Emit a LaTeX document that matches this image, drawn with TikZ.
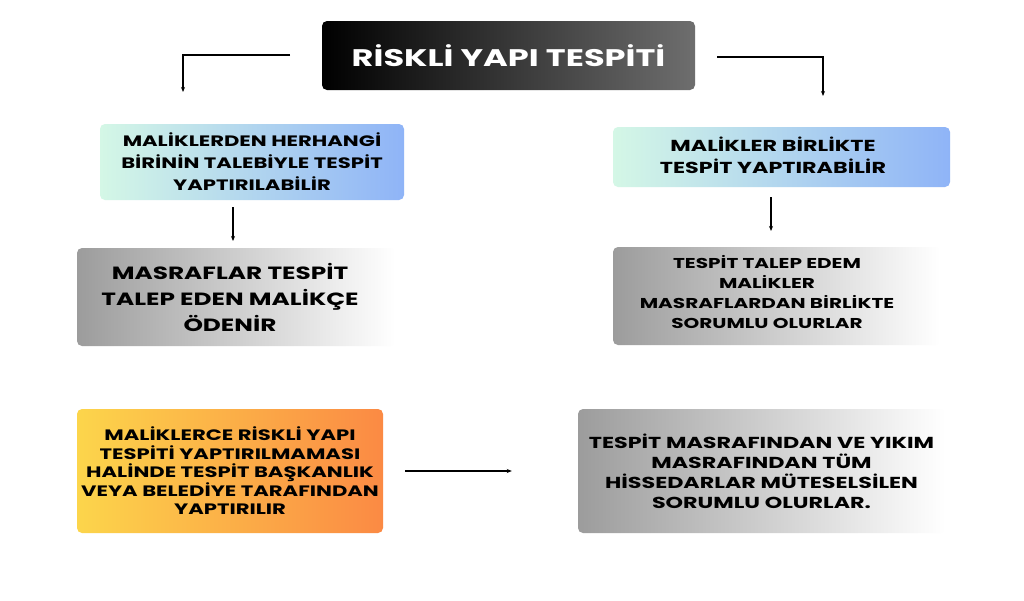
\documentclass[tikz,border=0pt]{standalone}
\usepackage{fontspec}
\setmainfont{Poppins}
\newfontfamily\widefont{Poppins}[FakeStretch=1.4]
\usetikzlibrary{arrows.meta}
\definecolor{mint}{HTML}{D4F7E6}
\definecolor{skyb}{HTML}{8FB4F7}
\definecolor{ttlgray}{HTML}{6E6E6E}
\definecolor{gryL}{HTML}{9C9C9C}
\definecolor{ylw}{HTML}{FCD54B}
\definecolor{org}{HTML}{FB8A44}
\newcommand{\fs}[2]{\widefont\bfseries\fontsize{#1}{#2}\selectfont}
\tikzset{
  base/.style={rounded corners=5pt, align=center, inner sep=0pt,
    execute at begin node={\lineskiplimit=-100pt\relax}},
  titlebox/.style={base, left color=black, right color=ttlgray, text=white},
  bluebox/.style={base, left color=mint, right color=skyb},
  graybox/.style={base, left color=gryL, right color=white},
  orangebox/.style={base, left color=ylw, right color=org},
  plaintext/.style={align=center, inner sep=0pt, execute at begin node={\lineskiplimit=-100pt\relax}},
  conn/.style={line width=1.2pt, -{Stealth[length=5pt,width=4pt]}},
}
\begin{document}
\begin{tikzpicture}[x=1pt,y=-1pt]
\useasboundingbox (0,0) rectangle (1024,600);
\fill[white] (0,0) rectangle (1024,600);
\node[titlebox, minimum width=373pt, minimum height=69pt, font=\fs{24}{26}] (title) at (508.5,55.5) {RİSKLİ YAPI TESPİTİ};
\node[bluebox, minimum width=304pt, minimum height=76pt, font=\fs{15.1}{22}] (l1) at (252,162) {MALİKLERDEN HERHANGİ\\BİRİNİN TALEBİYLE TESPİT\\YAPTIRILABİLİR};
\node[bluebox, minimum width=337pt, minimum height=60pt] (r1) at (781.5,157) {};
\node[plaintext, font=\fs{15.9}{22}] (r1t) at (773,155) {MALİKLER BİRLİKTE\\TESPİT YAPTIRABİLİR};
\node[graybox, minimum width=318pt, minimum height=98pt, font=\fs{17.7}{26}] (l2) at (236,297) {\hspace*{-12pt}MASRAFLAR TESPİT\\\hspace*{-12pt}TALEP EDEN MALİKÇE\\\hspace*{-12pt}ÖDENİR};
\node[graybox, minimum width=327pt, minimum height=98pt] (r2) at (776.5,296) {};
\node[plaintext, font=\fs{14.3}{20}] (r2t) at (767,292) {TESPİT TALEP EDEM\\MALİKLER\\MASRAFLARDAN BİRLİKTE\\SORUMLU OLURLAR};
\node[orangebox, minimum width=306pt, minimum height=124pt, font=\fs{15.1}{18.5}] (o) at (230,471) {MALİKLERCE RİSKLİ YAPI\\TESPİTİ YAPTIRILMAMASI\\HALİNDE TESPİT BAŞKANLIK\\VEYA BELEDİYE TARAFINDAN\\YAPTIRILIR};
\node[graybox, minimum width=367pt, minimum height=124pt, font=\fs{15.9}{20}] (g) at (761.5,471) {TESPİT MASRAFINDAN VE YIKIM\\MASRAFINDAN TÜM\\HİSSEDARLAR MÜTESELSİLEN\\SORUMLU OLURLAR.};
\coordinate (ls) at (290,55);
\coordinate (le) at (183,92);
\coordinate (rs) at (717,57);
\coordinate (re) at (823,96);
\coordinate (a1s) at (233,207);
\coordinate (a1e) at (233,241);
\coordinate (a2s) at (771,197);
\coordinate (a2e) at (771,231);
\draw[conn] (ls) -| (le);
\draw[conn] (rs) -| (re);
\draw[conn] (a1s) -- (a1e);
\draw[conn] (a2s) -- (a2e);
\draw[conn] ([xshift=22pt]o.east) -- ([xshift=-66pt]g.west);
\end{tikzpicture}
\end{document}
